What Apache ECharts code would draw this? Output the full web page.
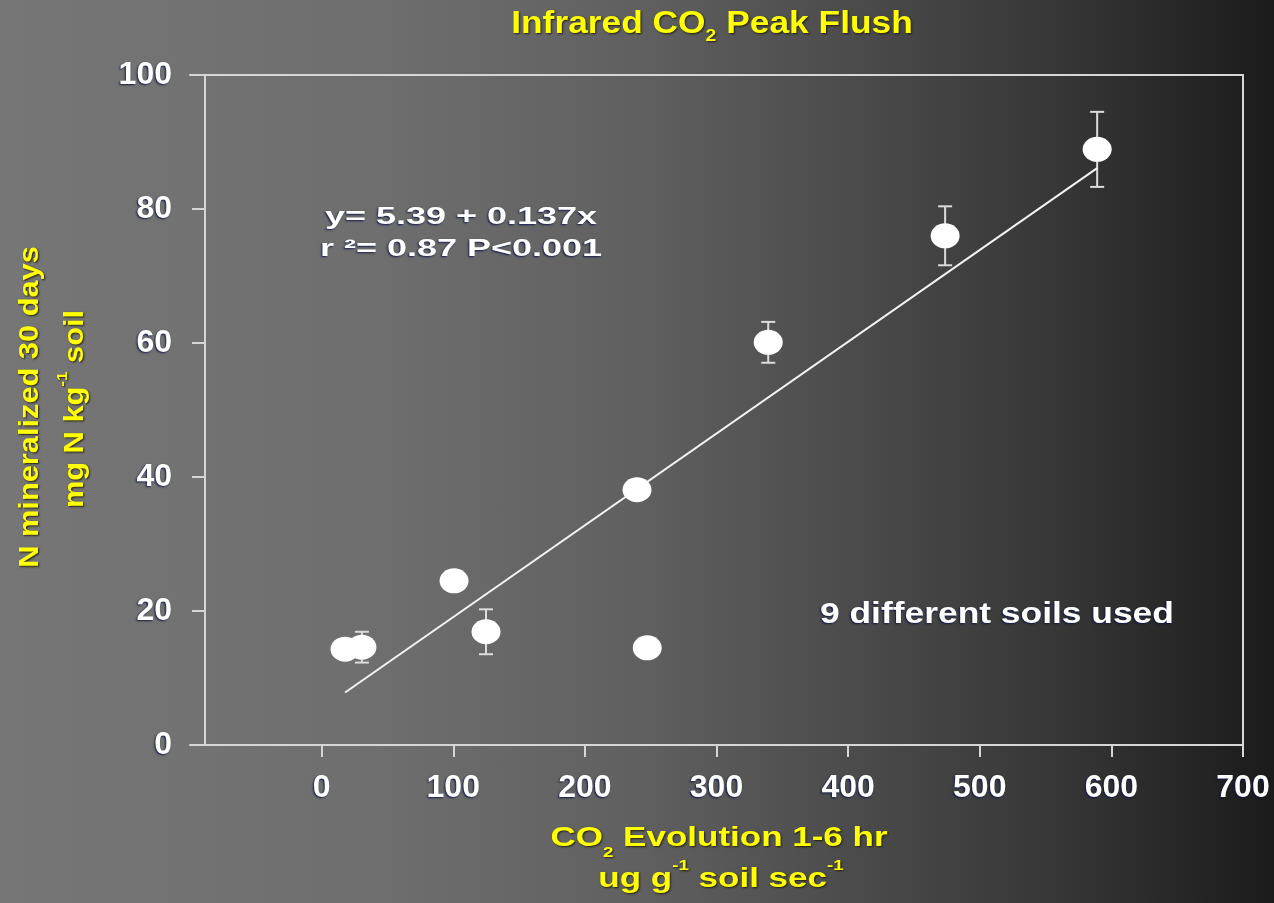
<!DOCTYPE html>
<html>
<head>
<meta charset="utf-8">
<title>Infrared CO2 Peak Flush</title>
<script src="https://cdn.jsdelivr.net/npm/echarts@6/dist/echarts.min.js"></script>
<style>
  html, body { margin: 0; padding: 0; }
  body {
    width: 1274px; height: 903px; overflow: hidden;
    background: linear-gradient(to right, #767676 0%, #6e6e6e 30%, #606060 50%, #4a4a4a 68%, #353535 84%, #1b1b1b 100%);
  }
  #chart { width: 1274px; height: 903px; }
</style>
</head>
<body>
<div id="chart"></div>
<script>
// CO2 evolution (x) and N mineralized (y) for the nine soils, with SE where shown
const co2Evolution = [17.8, 30.6, 100.6, 124.9, 239.6, 247.4, 339.3, 473.7, 589.2];
const nMineralized = [14.3, 14.6, 24.5, 16.9, 38.1, 14.5, 60.1, 76.0, 88.9];
const nError       = [null, 2.3, null, 3.35, null, null, 3.05, 4.4, 5.6];

// Regression stated on the plot: y = 5.39 + 0.137x
const fitIntercept = 5.39;
const fitSlope = 0.137;

// Tick values
const xTicks = [0, 100, 200, 300, 400, 500, 600, 700];
const yTicks = [0, 20, 40, 60, 80, 100];

const FONT = "'Liberation Sans', Arial, Helvetica, sans-serif";
const YELLOW = '#ffff00';
const AXIS_COLOR = '#d6d6d6';

const points = co2Evolution.map((x, i) => [x, nMineralized[i]]);
const errorBars = co2Evolution
  .map((x, i) => [x, nMineralized[i], nError[i]])
  .filter(d => d[2] != null);

const xMinData = Math.min(...co2Evolution);
const xMaxData = Math.max(...co2Evolution);
const fitLine = [
  [xMinData, fitIntercept + fitSlope * xMinData],
  [xMaxData, fitIntercept + fitSlope * xMaxData]
];

const whiteShadow = {
  textShadowColor: 'rgba(10,20,70,0.9)',
  textShadowBlur: 2,
  textShadowOffsetX: -1,
  textShadowOffsetY: 1
};
const yellowShadow = {
  textShadowColor: 'rgba(30,25,0,0.9)',
  textShadowBlur: 2,
  textShadowOffsetX: 1,
  textShadowOffsetY: 1
};

function richText(x, y, text, rich, opts) {
  return Object.assign({
    type: 'text',
    x: x,
    y: y,
    silent: true,
    style: {
      text: text,
      rich: rich,
      align: 'center',
      textAlign: 'center',
      verticalAlign: 'middle',
      textVerticalAlign: 'middle'
    }
  }, opts || {});
}

function yellowRich(size, mainLH) {
  const base = Object.assign({
    fontFamily: FONT, fontWeight: 'bold', fill: YELLOW
  }, yellowShadow);
  return {
    t: Object.assign({}, base, { fontSize: size, lineHeight: mainLH }),
    s: Object.assign({}, base, { fontSize: Math.round(size * 0.55), lineHeight: 16, verticalAlign: 'bottom' }),
    p: Object.assign({}, base, { fontSize: Math.round(size * 0.55), lineHeight: 16, verticalAlign: 'top' })
  };
}

function whiteText(x, y, text, size, scaleX, align) {
  return {
    type: 'text', x: x, y: y, scaleX: scaleX, silent: true,
    style: Object.assign({
      text: text,
      fontFamily: FONT, fontWeight: 'bold', fontSize: size, fill: '#ffffff',
      align: align, textAlign: align, verticalAlign: 'middle', textVerticalAlign: 'middle'
    }, whiteShadow)
  };
}

const chart = echarts.init(document.getElementById('chart'), null, { renderer: 'canvas' });

const axisLabelStyle = Object.assign({
  color: '#ffffff',
  fontFamily: FONT,
  fontWeight: 'bold',
  fontSize: 32
}, whiteShadow);

const option = {
  animation: false,
  backgroundColor: 'transparent',
  grid: {
    left: 190, right: 31, top: 75, bottom: 158,
    containLabel: false,
    outerBoundsMode: 'none'
  },
  xAxis: [
    {
      type: 'value',
      min: -100, max: 700, interval: 100,
      position: 'bottom',
      axisLine: { show: true, onZero: false, lineStyle: { color: AXIS_COLOR, width: 2 } },
      axisTick: { show: true, length: 12, customValues: xTicks, lineStyle: { color: AXIS_COLOR, width: 2 } },
      axisLabel: Object.assign({ margin: 27, customValues: xTicks }, axisLabelStyle),
      splitLine: { show: false }
    },
    {
      type: 'value',
      min: -100, max: 700,
      position: 'top',
      axisLine: { show: true, onZero: false, lineStyle: { color: AXIS_COLOR, width: 2 } },
      axisTick: { show: false },
      axisLabel: { show: false },
      splitLine: { show: false }
    }
  ],
  yAxis: [
    {
      type: 'value',
      min: 0, max: 100, interval: 20,
      position: 'left',
      offset: -15,
      axisLine: { show: true, onZero: false, lineStyle: { color: AXIS_COLOR, width: 2 } },
      axisTick: { show: true, length: 13, lineStyle: { color: AXIS_COLOR, width: 2 } },
      axisLabel: Object.assign({ margin: 33, customValues: yTicks }, axisLabelStyle),
      splitLine: { show: false }
    },
    {
      type: 'value',
      min: 0, max: 100,
      position: 'right',
      axisLine: { show: true, onZero: false, lineStyle: { color: AXIS_COLOR, width: 2 } },
      axisTick: { show: false },
      axisLabel: { show: false },
      splitLine: { show: false }
    }
  ],
  series: [
    {
      name: 'SE',
      type: 'custom',
      coordinateSystem: 'cartesian2d',
      xAxisIndex: 0,
      yAxisIndex: 0,
      z: 1,
      data: errorBars,
      renderItem: function (params, api) {
        const x = api.value(0), y = api.value(1), e = api.value(2);
        const top = api.coord([x, y + e]);
        const bot = api.coord([x, y - e]);
        const hw = 7;
        const st = { stroke: '#dcdcdc', lineWidth: 2 };
        return {
          type: 'group',
          children: [
            { type: 'line', shape: { x1: top[0], y1: top[1], x2: bot[0], y2: bot[1] }, style: st },
            { type: 'line', shape: { x1: top[0] - hw, y1: top[1], x2: top[0] + hw, y2: top[1] }, style: st },
            { type: 'line', shape: { x1: bot[0] - hw, y1: bot[1], x2: bot[0] + hw, y2: bot[1] }, style: st }
          ]
        };
      }
    },
    {
      name: 'Fit',
      type: 'line',
      xAxisIndex: 0,
      yAxisIndex: 0,
      z: 2,
      data: fitLine,
      symbol: 'none',
      lineStyle: { color: '#f4f4f4', width: 2 },
      silent: true
    },
    {
      name: 'Soils',
      type: 'scatter',
      xAxisIndex: 0,
      yAxisIndex: 0,
      z: 3,
      data: points,
      symbol: 'circle',
      symbolSize: [29, 25],
      itemStyle: { color: '#ffffff', opacity: 1 }
    }
  ],
  graphic: [
    // Title
    richText(712, 24, '{t|Infrared CO}{s|2}{t| Peak Flush}', yellowRich(31, 42), { scaleX: 1.14 }),
    // X axis name, two lines
    richText(719, 838, '{t|CO}{s|2}{t| Evolution 1-6 hr}', yellowRich(28, 44), { scaleX: 1.25 }),
    richText(721, 879, '{t|ug g}{p|-1}{t| soil sec}{p|-1}', yellowRich(28, 42), { scaleX: 1.25 }),
    // Y axis name, two rotated lines
    richText(31, 407, '{t|N mineralized 30 days}', yellowRich(27, 36), { rotation: Math.PI / 2, scaleX: 1.14 }),
    richText(76, 409, '{t|mg N kg}{p|-1}{t| soil}', yellowRich(27, 42), { rotation: Math.PI / 2, scaleX: 1.14 }),
    // Regression annotation
    whiteText(461, 217, 'y= 5.39 + 0.137x', 24, 1.5, 'center'),
    whiteText(461, 249, 'r ²= 0.87 P<0.001', 24, 1.5, 'center'),
    whiteText(820, 615, '9 different soils used', 29, 1.22, 'left')
  ]
};

chart.setOption(option);
</script>
</body>
</html>
